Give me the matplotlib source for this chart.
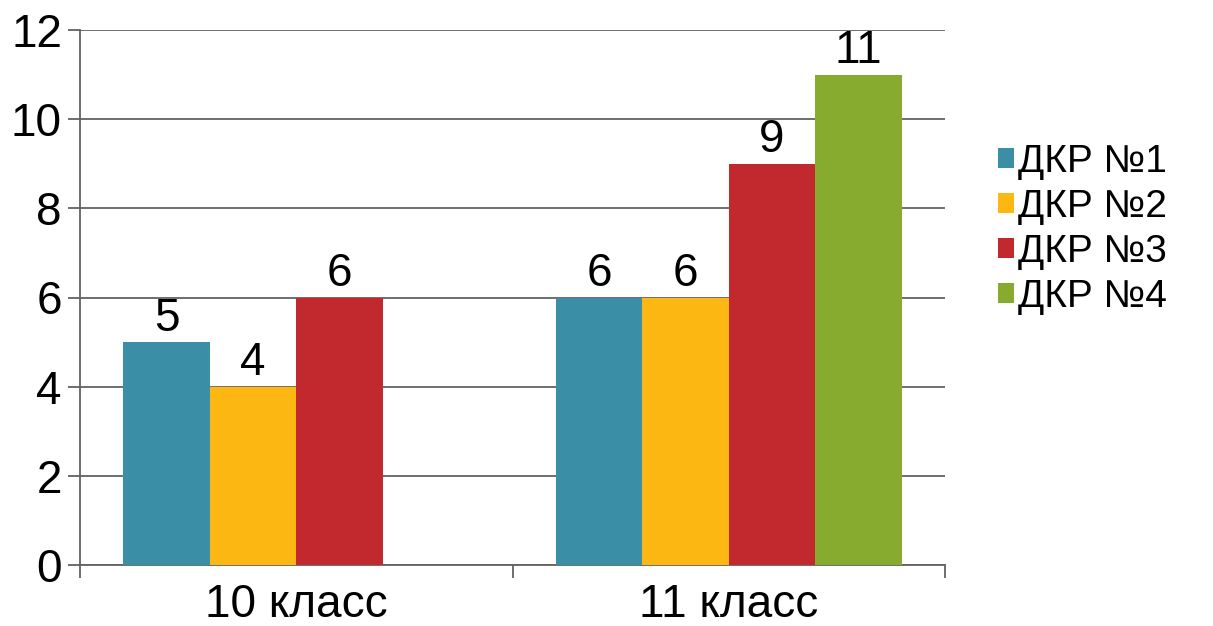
import matplotlib
matplotlib.use("Agg")
import matplotlib.pyplot as plt
import numpy as np

plt.rcParams['font.family'] = ['Liberation Sans', 'DejaVu Sans']

# data
categories = ['10 класс', '11 класс']
series = ['ДКР №1', 'ДКР №2', 'ДКР №3', 'ДКР №4']
values = [
    [5, 6],
    [4, 6],
    [6, 9],
    [np.nan, 11],
]
colors = ['#3A8FA6', '#FDB713', '#C1292E', '#86AB2E']

fig = plt.figure(figsize=(12.13, 6.26), dpi=100)
ax = fig.add_axes([80/1213, 61/626, 865/1213, 535/626])

n = len(series)
w = 0.2
x = np.arange(len(categories))
for i, (name, vals, c) in enumerate(zip(series, values, colors)):
    pos = x - (n - 1) * w / 2 + i * w
    bars = ax.bar(pos, vals, width=w, color=c, label=name, zorder=3)
    for b, v in zip(bars, vals):
        if np.isnan(v):
            continue
        ax.annotate(f'{v:g}', (b.get_x() + b.get_width()/2, v),
                    xytext=(0, 1), textcoords='offset points',
                    ha='center', va='bottom', fontsize=33, zorder=4)

grid_c = '#626262'
ax.set_xlim(-0.5, len(categories) - 0.5)
ax.set_ylim(0, 12)
ax.set_yticks(range(0, 13, 2))
ax.yaxis.grid(True, color=grid_c, linewidth=1.3, zorder=0)
ax.set_xticks(x)
ax.set_xticklabels(categories)
ax.set_xticks([-0.5, 0.5, 1.5], minor=True)
ax.tick_params(axis='x', which='major', length=0, pad=13, labelsize=33)
ax.tick_params(axis='x', which='minor', length=9, width=1.3, color=grid_c, direction='out')
ax.tick_params(axis='y', length=9, width=1.3, color=grid_c, labelsize=33, pad=4)
for s in ['top', 'right']:
    ax.spines[s].set_visible(False)
for s in ['left', 'bottom']:
    ax.spines[s].set_color(grid_c)
    ax.spines[s].set_linewidth(1.3)

ax.legend(loc='upper left', bbox_to_anchor=(998/1213, 1 - 144/626),
          bbox_transform=fig.transFigure, frameon=False, fontsize=28,
          handlelength=0.42, handleheight=0.42, handletextpad=0.1,
          labelspacing=0.23, borderpad=0, borderaxespad=0)

fig.savefig('out.png', dpi=100)
